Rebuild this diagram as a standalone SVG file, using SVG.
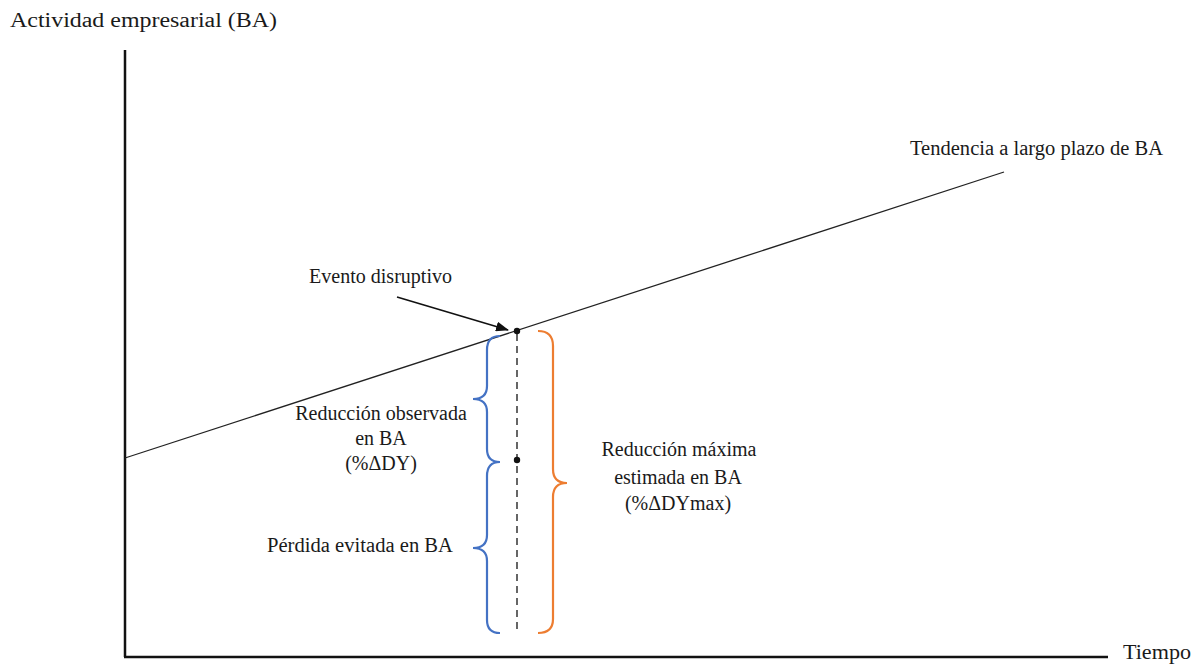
<svg xmlns="http://www.w3.org/2000/svg" width="1203" height="669" viewBox="0 0 1203 669">
<style>
text{font-family:"Liberation Serif","Times New Roman",serif;fill:#1a1a1a;font-size:20px}
.axis{stroke:#111;stroke-width:2.5;fill:none}
.line{stroke:#222;stroke-width:1.3;fill:none}
.arrow{stroke:#111;stroke-width:1.6;fill:none}
.blue{stroke:#4472C4;stroke-width:2.2;fill:none}
.orange{stroke:#ED7D31;stroke-width:2.2;fill:none}
.dash{stroke:#404040;stroke-width:1.6;stroke-dasharray:7 5;fill:none}
</style>
<defs>
<marker id="ah" markerWidth="13" markerHeight="10" refX="12" refY="5" orient="auto" markerUnits="userSpaceOnUse">
<path d="M0,0 L13,5 L0,10 Z" fill="#111"/>
</marker>
</defs>
<g id="axes">
<line class="axis" x1="125" y1="50" x2="125" y2="657"/>
<line class="axis" x1="124" y1="657" x2="1108" y2="657"/>
</g>
<g id="connectors">
<line class="line" x1="125" y1="458" x2="1004" y2="172"/>
<line class="arrow" x1="397" y1="297" x2="508" y2="330" marker-end="url(#ah)"/>
<line class="dash" x1="517" y1="334" x2="517" y2="633"/>
</g>
<g id="point-event"><circle cx="517" cy="331" r="3.2" fill="#111"/></g>
<g id="point-observed"><circle cx="517" cy="460" r="3.2" fill="#111"/></g>
<g id="brace-observed">
<path class="blue" d="M500,336 Q487,336 487,350 L487,386 Q487,399 473,399 Q487,399 487,412 L487,449 Q487,462 500,462"/>
</g>
<g id="brace-avoided">
<path class="blue" d="M500,462 Q487,462 487,476 L487,535 Q487,548 473,548 Q487,548 487,561 L487,620 Q487,633 500,633"/>
</g>
<g id="brace-max">
<path class="orange" d="M538,331 Q553,331 553,346 L553,469 Q553,483 567,483 Q553,483 553,497 L553,619 Q553,633 538,633"/>
</g>
<g id="label-y"><text x="10" y="27" font-size="23" textLength="267" lengthAdjust="spacingAndGlyphs">Actividad empresarial (BA)</text></g>
<g id="label-x"><text x="1123" y="659" font-size="21" textLength="68" lengthAdjust="spacingAndGlyphs">Tiempo</text></g>
<g id="label-trend"><text x="910" y="155" textLength="253" lengthAdjust="spacingAndGlyphs">Tendencia  a largo  plazo  de BA</text></g>
<g id="label-event"><text x="309" y="283" textLength="143" lengthAdjust="spacingAndGlyphs">Evento  disruptivo</text></g>
<g id="label-observed">
<text x="381" y="420" text-anchor="middle">Reducción  observada</text>
<text x="381" y="445" text-anchor="middle">en BA</text>
<text x="381" y="470" text-anchor="middle">(%ΔDY)</text>
</g>
<g id="label-avoided"><text x="267" y="552" textLength="186" lengthAdjust="spacingAndGlyphs">Pérdida evitada  en BA</text></g>
<g id="label-max">
<text x="679" y="456" text-anchor="middle">Reducción  máxima</text>
<text x="678" y="484" text-anchor="middle">estimada  en BA</text>
<text x="678" y="510" text-anchor="middle">(%ΔDYmax)</text>
</g>
</svg>
